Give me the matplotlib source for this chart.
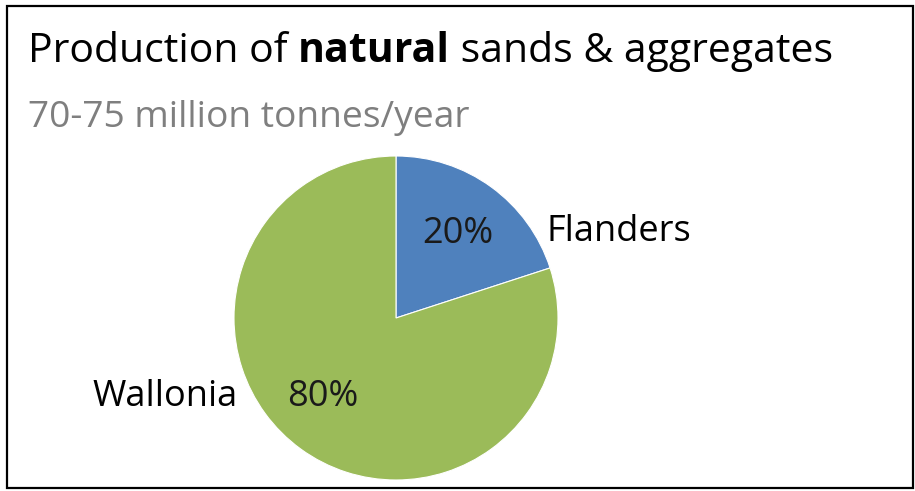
import matplotlib.pyplot as plt
from matplotlib.patches import Rectangle

regions = ["Flanders", "Wallonia"]
shares = [20, 80]
colors = ["#4F81BD", "#9BBB59"]

plt.rcParams['font.family'] = ['Open Sans', 'DejaVu Sans']

W, H = 915, 491
fig = plt.figure(figsize=(W / 100, H / 100), dpi=100)

# outer frame
fig.patches.append(Rectangle((0.008, 0.006), 0.990, 0.982, transform=fig.transFigure,
                             fill=False, edgecolor='black', linewidth=1.6))

# title with one bold word, pieces laid end to end
renderer = fig.canvas.get_renderer()
x = 28
size = 29.5
for part, weight in [("Production of ", 'normal'), ("natural", 'bold'),
                     (" sands & aggregates", 'normal')]:
    t = fig.text(x / W, 1 - 62 / H, part, fontsize=size, fontweight=weight,
                 va='baseline', ha='left')
    x += t.get_window_extent(renderer).width

fig.text(28 / W, 1 - 127 / H, "70-75 million tonnes/year", fontsize=26.7,
         color='#7F7F7F', va='baseline', ha='left')

# pie: centre (396, 318) px, radius 162 px
cx, cy, r = 396, 318, 162
ax = fig.add_axes([(cx - r) / W, (H - cy - r) / H, 2 * r / W, 2 * r / H])
wedges, texts = ax.pie(shares, colors=colors, startangle=90, counterclock=False,
                       wedgeprops=dict(edgecolor='white', linewidth=0.8))
ax.set_xlim(-1, 1)
ax.set_ylim(-1, 1)
ax.set_aspect('equal')
ax.axis('off')

# percentage and region labels
pct_pos = [(0.38, 0.52), (-0.45, -0.49)]
name_pos = [(0.93, 0.53, 'left'), (-0.98, -0.49, 'right')]
for name, share, (px, py), (nx, ny, ha) in zip(regions, shares, pct_pos, name_pos):
    ax.text(px, py, f"{share}%", fontsize=26, color='#1a1a1a', ha='center', va='center')
    ax.text(nx, ny, name, fontsize=26, color='black', ha=ha, va='center', clip_on=False)

fig.savefig("out.png", dpi=100)
